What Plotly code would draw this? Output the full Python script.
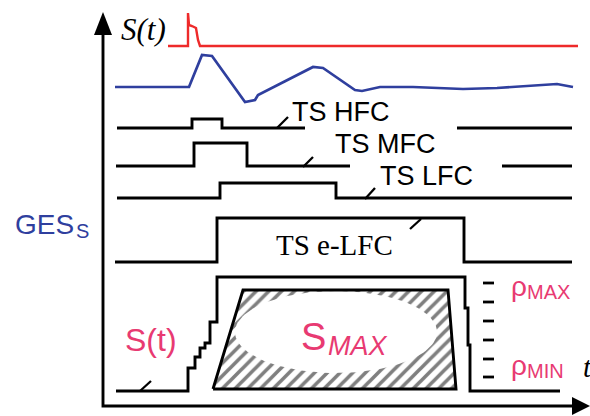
import numpy as np
import plotly.graph_objects as go

W, H = 590, 416

# ---- signal traces (canvas units, y grows downward) ----
red_x = [168, 188, 188, 189, 192, 196, 198, 200, 578]
red_y = [46, 46, 13, 25, 26, 28, 40, 46, 46]

ges_x = [115, 189, 202, 212, 245, 255, 258, 313, 323, 355, 362, 380, 413, 463, 497, 557, 573]
ges_y = [87, 87, 55, 56, 102, 100, 95, 67, 68, 90, 91, 87, 87, 89, 88, 84, 87]

# trigger-stage pulses (None separates broken segments)
hfc_x = [117, 192, 192, 222, 222, 305, None, 457, 572]
hfc_y = [128, 128, 119, 119, 128, 128, None, 128, 128]

mfc_x = [116, 194, 194, 247, 247, 350, None, 502, 572]
mfc_y = [166, 166, 143, 143, 166, 166, None, 166, 166]

lfc_x = [117, 220, 220, 336, 336, 572]
lfc_y = [198, 198, 183, 183, 198, 198]

elfc_x = [115, 217, 217, 464, 464, 572]
elfc_y = [262, 262, 218, 218, 262, 262]

# staircase of S(t)
st_x = [116, 188, 188, 195, 195, 200, 200, 205, 205, 210, 210, 217, 217,
        465, 465, 468, 468, 470, 470, 560]
st_y = [391, 391, 368, 368, 357, 357, 348, 348, 343, 343, 322, 322, 277,
        277, 308, 308, 345, 345, 391, 391]

# S_MAX trapezoid
trap_x = [213, 243, 448, 456, 213]
trap_y = [389, 290, 290, 389, 389]

# rho level marks
rho_levels = [283, 302, 321, 340, 359, 377]

# leader ticks (from, to)
leaders = [((277, 128), (288, 117)),
           ((303, 167), (313, 157)),
           ((365, 199), (375, 188)),
           ((410, 229), (421, 219)),
           ((140, 391), (151, 381))]

BLACK = "#000000"
RED = "#ee2a2a"
BLUE = "#2f3f9e"
PINK = "#e83a72"
LW = 2.9

fig = go.Figure()

def line(x, y, color=BLACK, width=LW):
    fig.add_trace(go.Scatter(x=x, y=y, mode="lines",
                             line=dict(color=color, width=width),
                             hoverinfo="skip", showlegend=False))

# hatched trapezoid with clear ellipse in the middle
fig.add_trace(go.Scatter(x=trap_x, y=trap_y, mode="lines", fill="toself",
                         fillcolor="white",
                         fillpattern=dict(shape="/", size=9, solidity=0.4,
                                          fgcolor="#000000", bgcolor="white"),
                         line=dict(width=0), hoverinfo="skip", showlegend=False))
t = np.linspace(0, 2 * np.pi, 120)
ex = 336 + 101 * np.cos(t)
ey = 332 + 41 * np.sin(t)
fig.add_trace(go.Scatter(x=ex, y=ey, mode="lines", fill="toself",
                         fillcolor="white", line=dict(width=0, color="white"),
                         hoverinfo="skip", showlegend=False))
line(trap_x, trap_y)

line(red_x, red_y, RED, 2.4)
line(ges_x, ges_y, BLUE, 2.7)
line(hfc_x, hfc_y)
line(mfc_x, mfc_y)
line(lfc_x, lfc_y)
line(elfc_x, elfc_y)
line(st_x, st_y)

for (a, b) in leaders:
    line([a[0], b[0]], [a[1], b[1]], BLACK, 2.3)

dx, dy = [], []
for ry in rho_levels:
    dx += [483, 494, None]
    dy += [ry, ry, None]
line(dx, dy, BLACK, 2.8)

# axes with arrowheads
line([103, 103, 574], [34, 406, 406], BLACK, 2.9)
fig.add_trace(go.Scatter(x=[103, 94, 112, 103], y=[12, 35, 35, 12], mode="lines",
                         fill="toself", fillcolor=BLACK, line=dict(width=0),
                         hoverinfo="skip", showlegend=False))
fig.add_trace(go.Scatter(x=[590, 572, 572, 590], y=[406, 397, 415, 406], mode="lines",
                         fill="toself", fillcolor=BLACK, line=dict(width=0),
                         hoverinfo="skip", showlegend=False))

SANS = "Liberation Sans, Arial, sans-serif"
SERIF = "Liberation Serif, Times New Roman, serif"

def label(x, y, text, size, color=BLACK, family=SANS, xanchor="left"):
    fig.add_annotation(x=x, y=y, text=text, showarrow=False, xanchor=xanchor,
                       yanchor="middle", font=dict(size=size, color=color, family=family))

label(119, 29, "<i>S(t)</i>", 31, family=SERIF)
label(290, 112, "TS HFC", 27)
label(333, 144, "TS MFC", 27)
label(378, 176, "TS LFC", 27)
label(274, 245, "TS e-LFC", 29, family=SERIF)
label(13, 224, "GES", 28, BLUE)
label(74, 231, "S", 20, BLUE)
label(123, 340, "S(t)", 32, PINK)
label(299, 337, "S", 38, PINK)
label(326, 346, "<i>MAX</i>", 27, PINK)
label(509, 286, "ρ", 28, PINK)
label(525, 292, "MAX", 20, PINK)
label(509, 365, "ρ", 28, PINK)
label(525, 371, "MIN", 20, PINK)
label(581, 367, "<i>t</i>", 29, family=SERIF)

fig.update_layout(
    width=W, height=H, margin=dict(l=0, r=0, t=0, b=0),
    paper_bgcolor="white", plot_bgcolor="white",
    xaxis=dict(range=[0, W], visible=False, fixedrange=True),
    yaxis=dict(range=[H, 0], visible=False, fixedrange=True),
    showlegend=False,
)

fig.write_html("out.html")
